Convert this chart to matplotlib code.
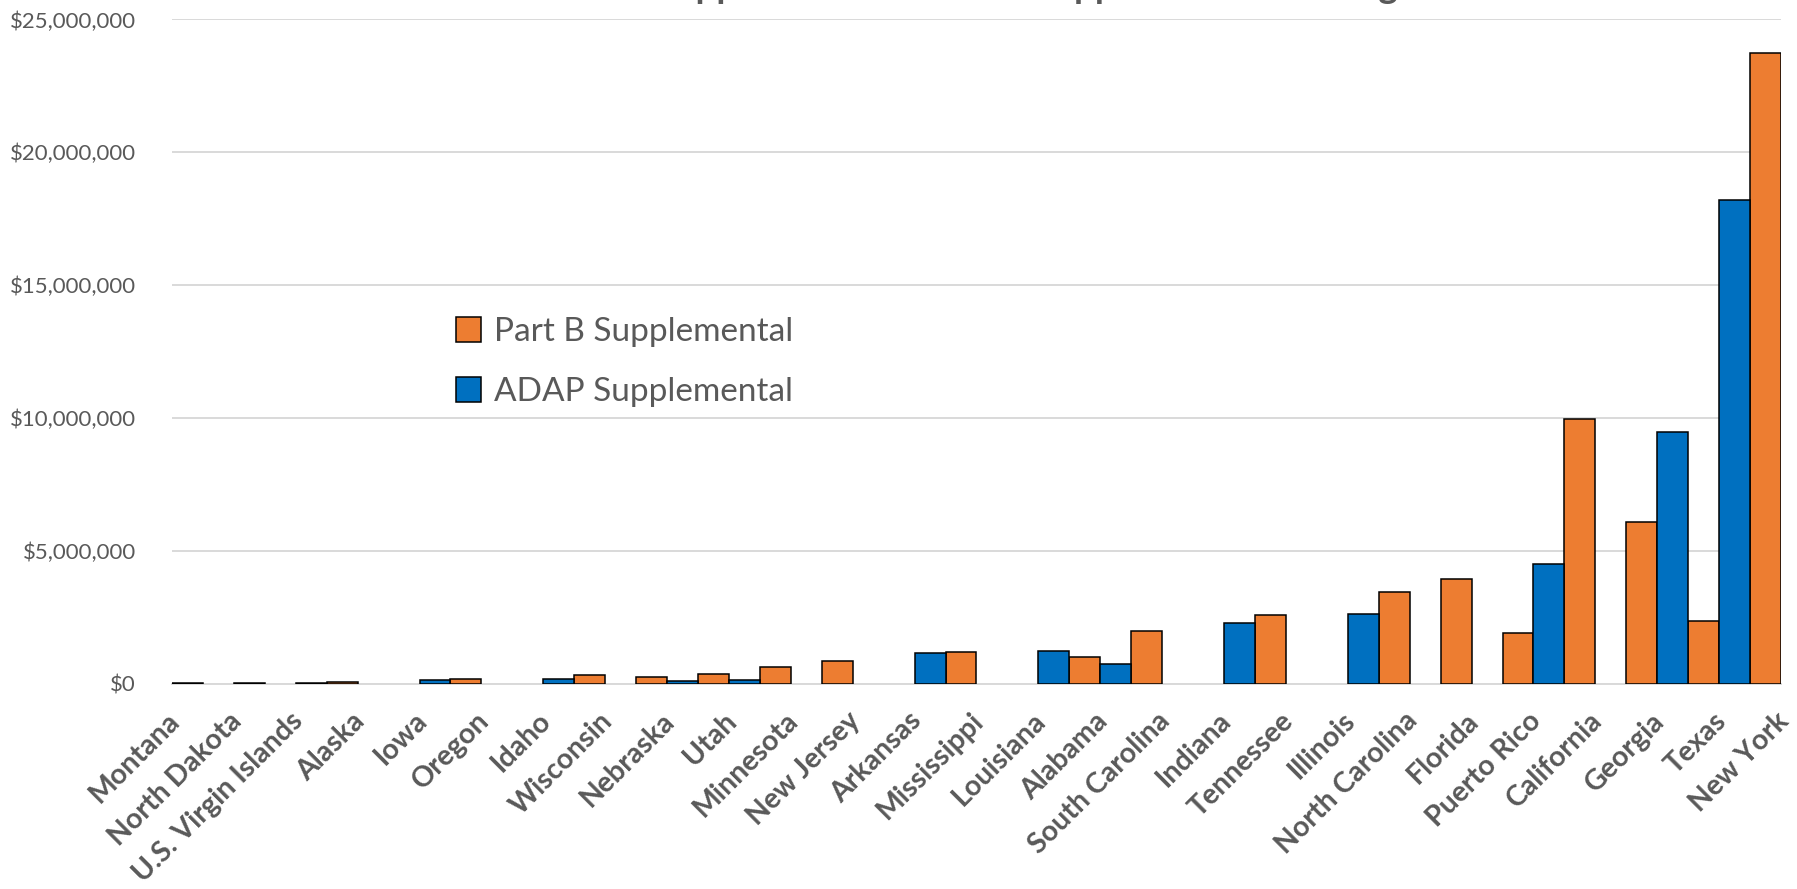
import numpy as np
import matplotlib
matplotlib.use("Agg")
from matplotlib import pyplot as plt
from matplotlib import transforms
from matplotlib.ticker import FuncFormatter, MultipleLocator
from matplotlib.patches import Patch

plt.rcParams['font.family'] = ['Lato', 'DejaVu Sans']

# awards by state, ascending by combined total (nan = no award)
states = ['Montana', 'North Dakota', 'U.S. Virgin Islands', 'Alaska', 'Iowa',
          'Oregon', 'Idaho', 'Wisconsin', 'Nebraska', 'Utah', 'Minnesota',
          'New Jersey', 'Arkansas', 'Mississippi', 'Louisiana', 'Alabama',
          'South Carolina', 'Indiana', 'Tennessee', 'Illinois', 'North Carolina',
          'Florida', 'Puerto Rico', 'California', 'Georgia', 'Texas', 'New York']

part_b = [np.nan, np.nan, np.nan, 70000, np.nan,
          200000, np.nan, 330000, 260000, 370000, 640000,
          880000, np.nan, 1220000, np.nan, 1000000,
          1980000, np.nan, 2600000, np.nan, 3470000,
          3960000, 1910000, 9980000, 6090000, 2380000, 23740000]

adap = [40000, 50000, 50000, np.nan, 140000,
        np.nan, 200000, np.nan, 100000, 140000, np.nan,
        np.nan, 1180000, np.nan, 1260000, 770000,
        np.nan, 2310000, np.nan, 2630000, np.nan,
        np.nan, 4530000, np.nan, 9470000, 18190000, np.nan]

ORANGE = '#ED7D31'
BLUE = '#0070C0'
GREY = '#595959'
GRID = '#D9D9D9'

fig = plt.figure(figsize=(17.97, 8.89), dpi=100)
ax = fig.add_axes([0.0957, 0.2306, 0.8954, 0.7475])

x = np.arange(len(states))
w = 0.5
ax.bar(x - w, np.array(part_b, dtype=float), width=w, align='edge',
       color=ORANGE, edgecolor='black', linewidth=1.1, zorder=3)
ax.bar(x, np.array(adap, dtype=float), width=w, align='edge',
       color=BLUE, edgecolor='black', linewidth=1.1, zorder=3)

ax.set_xlim(0, len(states) - 1)
ax.set_ylim(0, 25000000)
ax.yaxis.set_major_locator(MultipleLocator(5000000))
ax.yaxis.set_major_formatter(FuncFormatter(lambda v, p: f'${v:,.0f}'))

ax.grid(axis='y', color=GRID, linewidth=1.4, zorder=0)
ax.set_axisbelow(True)
for s in ['top', 'right', 'left']:
    ax.spines[s].set_visible(False)
ax.spines['bottom'].set_color(GRID)
ax.spines['bottom'].set_linewidth(1.4)

ax.set_xticks(x)
ax.set_xticklabels(states, rotation=45, ha='right', va='top',
                   rotation_mode='anchor', fontsize=20.5, fontweight='bold',
                   color=GREY)
ax.tick_params(axis='x', length=0, pad=17)
ax.tick_params(axis='y', length=0, pad=26, labelsize=16, labelcolor=GREY)

# nudge the slanted labels so their ends sit on the ticks
shift = transforms.ScaledTranslation(-6 / 100, 0, fig.dpi_scale_trans)
for lab in ax.get_xticklabels():
    lab.set_transform(lab.get_transform() + shift)

handles = [Patch(facecolor=ORANGE, edgecolor='black', linewidth=1.1),
           Patch(facecolor=BLUE, edgecolor='black', linewidth=1.1)]
ax.legend(handles, ['Part B Supplemental', 'ADAP Supplemental'],
          loc='center left', bbox_to_anchor=(456 / 1797, 1 - 362 / 889),
          bbox_transform=fig.transFigure, frameon=False, fontsize=24,
          labelcolor=GREY, handlelength=0.75, handleheight=0.75,
          handletextpad=0.4, labelspacing=0.9, borderpad=0, borderaxespad=0)

# title sits mostly above the canvas
fig.text(0.540, 1.0025, 'Part B Supplemental & ADAP Supplemental Funding',
         ha='center', va='baseline', fontsize=26.5, fontweight='bold', color=GREY)

fig.savefig('out.png', dpi=100)
